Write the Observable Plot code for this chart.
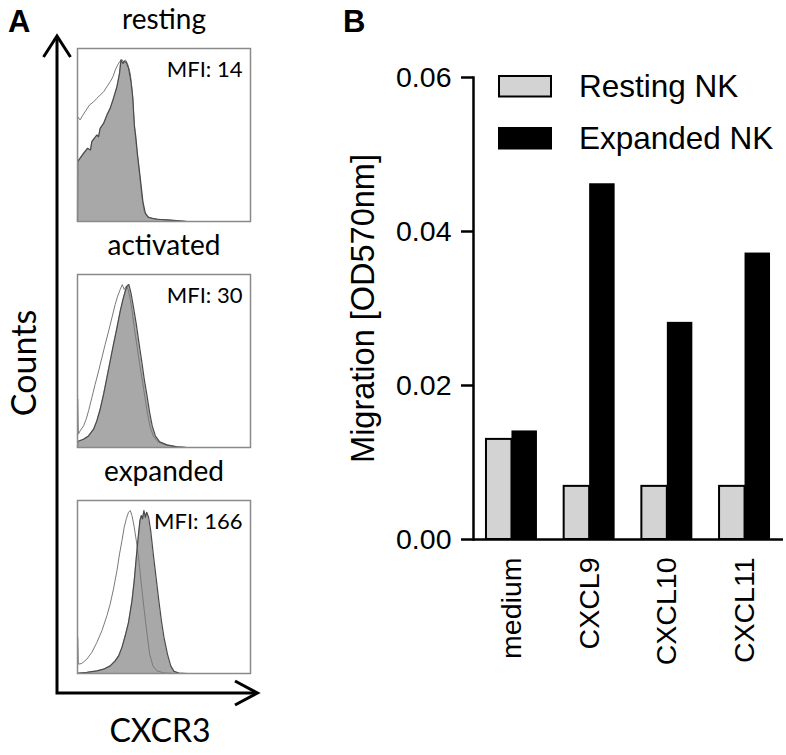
<!DOCTYPE html>
<html><head><meta charset="utf-8">
<script src="https://cdn.jsdelivr.net/npm/d3@7"></script>
<script src="https://cdn.jsdelivr.net/npm/@observablehq/plot@0.6"></script>
<style>
html,body{margin:0;padding:0;background:#fff;}
#fig{position:relative;width:786px;height:755px;overflow:hidden;background:#fff;}
#fig > *{position:absolute;}
</style></head><body><div id="fig"></div>
<script>
// ---------- Panel A data (channel 0-100, counts % of max) ----------
const histPanels = ["resting", "activated", "expanded"];
const mfiLabels = ["MFI: 14", "MFI: 30", "MFI: 166"];

const restingControl = [[0,0],[0.1,60.6],[1.5,58.7],[3.1,61.5],[5,64.4],[6.9,67.3],[9.3,69.2],[11.2,71.2],[13.1,73.1],[15.1,75],[17,77.9],[18.9,80.8],[20.5,83.7],[21.8,87.5],[23.2,90.4],[24.3,92.3],[25.5,93.8],[26.6,92.3],[27.8,93.3],[28.9,91.3],[30.5,85.6],[31.7,75],[32.4,63.5],[33.2,51.9],[34.4,40.4],[35.9,26.9],[37.3,13.5],[38.6,5.8],[40.2,2.9],[44,1.5],[55.6,0.6],[63.3,0],[100,0]];
const restingCXCR3 = [[0,0],[0.1,34.6],[3.5,39.4],[5.8,42.3],[7.5,41.3],[8.3,46.2],[11.2,50],[12.2,49],[13.1,53.8],[15.1,56.7],[17,61.5],[18.9,65.4],[20.8,71.2],[22.8,77.9],[24.3,85.6],[25.1,93.3],[26.3,91.3],[27,92.7],[28.2,91.9],[29.5,88.5],[30.9,80.8],[32,71.2],[32.8,55.8],[33.6,50],[34.7,38.5],[36.3,25],[37.8,11.5],[39.2,4.8],[41.1,2.3],[46,1.3],[55.6,0.6],[63.3,0],[100,0]];

const activatedControl = [[0,0],[0.1,28.1],[0.5,7.7],[1.5,9.6],[3.5,12.5],[5,16.3],[6.4,21.2],[8.3,28.8],[10.2,36.5],[12.2,44.2],[14.1,51.9],[16,59.6],[18,67.3],[19.9,75],[21.8,82.7],[23.2,87.5],[24.7,91.3],[25.9,94.2],[27,91.3],[28.2,93.3],[29.3,91.3],[30.5,85.6],[31.7,77.9],[32.8,69.2],[34.4,58.7],[35.9,48.1],[37.5,38.5],[39,28.8],[40.5,19.2],[42.1,11.5],[44,6.2],[46.9,2.9],[51.7,1.3],[57.5,0.4],[63.3,0],[100,0]];
const activatedCXCR3 = [[0,0],[0.1,3.5],[3.5,4.8],[6.4,6.7],[9.3,10.6],[11.2,15.4],[13.1,22.1],[15.1,30.8],[17,40.4],[18.9,50],[20.8,59.6],[22.8,69.2],[24.7,78.8],[26.3,85.6],[27.6,90.4],[28.6,93.3],[29.7,94.2],[30.9,89.4],[32.4,80.8],[34,71.2],[35.5,60.6],[37.1,50],[38.6,39.4],[40.2,29.8],[41.7,20.2],[43.2,12.5],[45,6.7],[47.5,3.3],[51.7,1.5],[57.5,0.4],[63.3,0],[100,0]];

const expandedControl = [[0,0],[0.1,20.8],[0.5,5.4],[2.5,5.8],[5.4,8.3],[8.3,12.2],[11.2,18],[14.1,24.7],[17,33.4],[18.9,40.2],[20.8,48.8],[22.8,59.5],[24.3,69.1],[25.7,76.8],[27,84.6],[28.2,89.4],[29.5,93.2],[30.5,94.2],[31.5,91.3],[32.8,84.6],[34.4,74.1],[35.9,61.4],[37.3,47.9],[38.6,36.3],[40.2,22.8],[41.7,11.2],[43.6,4.4],[45.9,1.5],[49.8,0.4],[55.6,0],[100,0]];
const expandedCXCR3 = [[0,0],[0.6,0.2],[5.4,0.6],[11.2,1.5],[15.1,2.5],[18.9,4.4],[21.8,7.3],[23.8,10.2],[25.7,15.1],[27.6,21.8],[29.5,29.5],[31.5,42.1],[32.8,53.7],[34,67.2],[35.1,78.8],[36.1,88.4],[36.9,91.3],[37.6,89.4],[38.4,94.2],[39.2,90.3],[40,93.2],[41.1,90.3],[42.3,82.6],[43.8,69.1],[45.4,55.6],[47,42.1],[48.5,30.5],[50,20.8],[52,11.2],[53.9,4.4],[55.8,1.2],[58.7,0.2],[63.3,0],[100,0]];

const controlCurves = [restingControl, activatedControl, expandedControl];
const stainCurves = [restingCXCR3, activatedCXCR3, expandedCXCR3];

// ---------- Panel B data ----------
const categories = ["medium", "CXCL9", "CXCL10", "CXCL11"];
const seriesNames = ["Resting NK", "Expanded NK"];
const seriesColors = ["#d3d3d3", "#000000"];
const restingNK = [0.013, 0.0069, 0.0069, 0.0069];
const expandedNK = [0.0141, 0.0462, 0.0282, 0.0372];
const yTicks = [0, 0.02, 0.04, 0.06];
const yLabel = "Migration [OD570nm]";

const fig = document.getElementById("fig");

// ---------- Panel A plot ----------
const stain = [], control = [];
histPanels.forEach((p, i) => {
  stainCurves[i].forEach(([u, v]) => stain.push({panel: p, u, v}));
  controlCurves[i].forEach(([u, v]) => control.push({panel: p, u, v}));
});
const mfiRows = histPanels.map((p, i) => ({panel: p, label: mfiLabels[i]}));

const plotA = Plot.plot({
  width: 280, height: 755,
  marginLeft: 77, marginRight: 30, marginTop: 47, marginBottom: 82,
  x: {domain: [0, 100], axis: null},
  y: {domain: [0, 100], axis: null},
  fy: {domain: histPanels, axis: null, paddingInner: 0.236, paddingOuter: 0},
  style: {fontFamily: "Lato, sans-serif", background: "transparent", overflow: "visible", color: "black"},
  marks: [
    Plot.areaY(stain, {fy: "panel", x: "u", y: "v", fill: "#a8a8a8"}),
    Plot.lineY(control, {fy: "panel", x: "u", y: "v", stroke: "#7a7a7a", strokeWidth: 1}),
    Plot.lineY(stain, {fy: "panel", x: "u", y: "v", stroke: "#4a4a4a", strokeWidth: 1.2}),
    Plot.frame({stroke: "#8a8a8a", strokeWidth: 1.5}),
    Plot.text(histPanels, {fy: d => d, text: d => d, frameAnchor: "top", lineAnchor: "bottom", dy: -20, fontSize: 28, fill: "black"}),
    Plot.text(mfiRows, {fy: "panel", text: "label", frameAnchor: "top-right", textAnchor: "end", lineAnchor: "bottom", dx: -8, dy: 28, fontSize: 22, fill: "black"})
  ]
});
plotA.style.left = "0px"; plotA.style.top = "0px";
fig.appendChild(plotA);

// ---------- Panel B plot ----------
const catRows = categories.map((c, i) => ({category: c, resting: restingNK[i], expanded: expandedNK[i]}));
const pIn = 0.344, pOut = 0.167;
const bWidth = 446, bML = 133, bMR = 3;
const frameW = bWidth - bML - bMR;
const step = frameW / (categories.length - pIn + 2 * pOut);
const half = step * (1 - pIn) / 2;

const plotB = Plot.plot({
  width: bWidth, height: 660,
  marginLeft: bML, marginRight: bMR, marginTop: 77, marginBottom: 121,
  x: {domain: categories, paddingInner: pIn, paddingOuter: pOut, round: false, axis: null},
  y: {domain: [0, 0.06], axis: null},
  style: {fontFamily: "'Liberation Sans', Arial, sans-serif", background: "transparent", overflow: "visible", color: "black"},
  marks: [
    Plot.barY(catRows, {x: "category", y: "resting", fill: seriesColors[0], stroke: "black", strokeWidth: 2, insetRight: half, insetLeft: 0}),
    Plot.barY(catRows, {x: "category", y: "expanded", fill: seriesColors[1], insetLeft: half, insetRight: 0}),
    Plot.axisY({ticks: yTicks, tickFormat: d3.format(".2f"), tickSize: 12, tickPadding: 10, strokeWidth: 2.5, fontSize: 28.5, label: null}),
    Plot.axisX({tickSize: 0, tickRotate: -90, tickPadding: 18, fontSize: 28.5, label: null}),
    Plot.frame({anchor: "left", strokeWidth: 2.5}),
    Plot.ruleY([0], {strokeWidth: 2.5}),
    Plot.text([yLabel], {frameAnchor: "left", textAnchor: "middle", rotate: -90, dx: -110, fontSize: 32.5, lineAnchor: "middle"})
  ]
});
plotB.style.left = "340px"; plotB.style.top = "0px";
fig.appendChild(plotB);

// ---------- Decorations: panel letters, arrow axes, legend ----------
const svg = d3.create("svg").attr("width", 786).attr("height", 755)
  .style("left", "0px").style("top", "0px").style("overflow", "visible");
const sans = "'Liberation Sans', Arial, sans-serif";
svg.append("text").attr("x", 8).attr("y", 32).attr("font-family", sans).attr("font-weight", "bold").attr("font-size", 31).text("A");
svg.append("text").attr("x", 343).attr("y", 32).attr("font-family", sans).attr("font-weight", "bold").attr("font-size", 31).text("B");

const ax = svg.append("g").attr("fill", "none").attr("stroke", "black").attr("stroke-width", 3);
ax.append("path").attr("d", "M57,37V693H257");
ax.append("path").attr("d", "M43.5,57L57,36L70.5,57");
ax.append("path").attr("d", "M235,681L257.5,693L235,705");

svg.append("text").attr("transform", "translate(36,363) rotate(-90)").attr("text-anchor", "middle")
  .attr("font-family", "Lato, sans-serif").attr("font-size", 34).text("Counts");
svg.append("text").attr("x", 160).attr("y", 742).attr("text-anchor", "middle")
  .attr("font-family", "Lato, sans-serif").attr("font-size", 32).text("CXCR3");

const legY = [76, 128];
seriesNames.forEach((name, i) => {
  svg.append("rect").attr("x", 499).attr("y", legY[i]).attr("width", 52).attr("height", 20.5)
    .attr("fill", seriesColors[i]).attr("stroke", "black").attr("stroke-width", 2);
  svg.append("text").attr("x", 579).attr("y", legY[i] + 20.5).attr("font-family", sans).attr("font-size", 31.5).text(name);
});
fig.appendChild(svg.node());
</script></body></html>
